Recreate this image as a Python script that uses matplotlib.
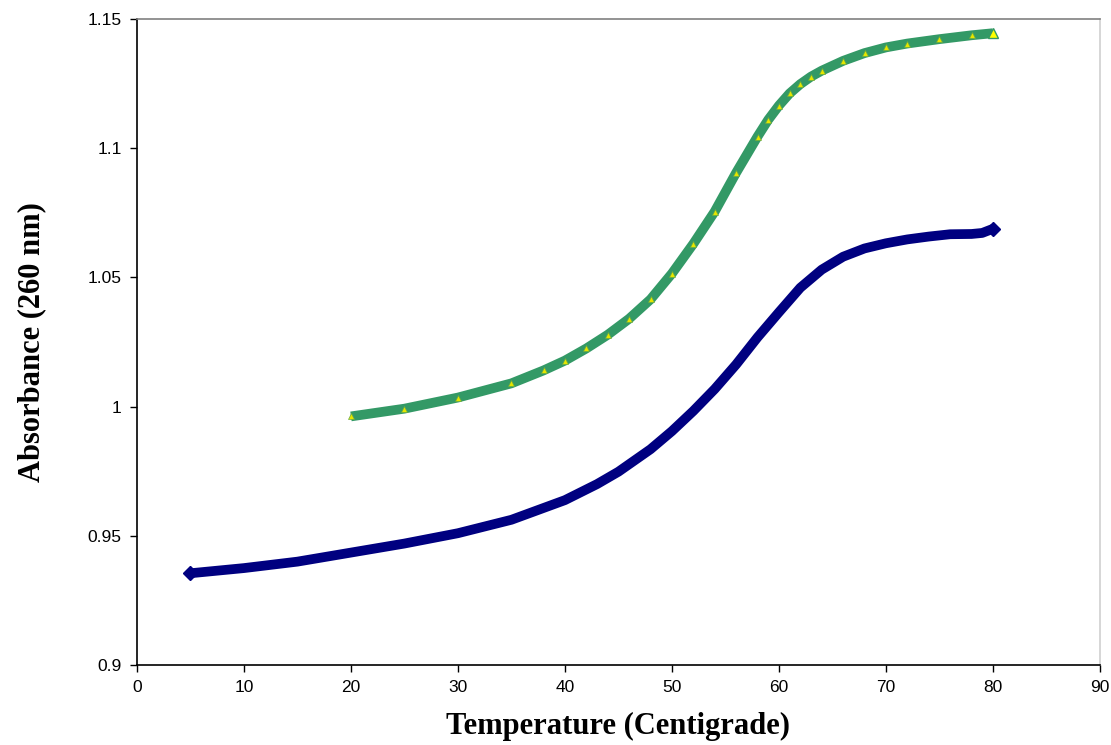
import matplotlib
matplotlib.use("Agg")
import matplotlib.pyplot as plt
from matplotlib.ticker import FuncFormatter

# Melting curves (temperature in C, absorbance at 260 nm)
temp_blue = [5, 10, 15, 20, 25, 30, 35, 40, 43, 45, 48, 50, 52, 54, 56, 58,
             60, 62, 64, 66, 68, 70, 72, 74, 76, 78, 79, 80]
abs_blue = [0.9355, 0.9375, 0.9400, 0.9435, 0.9470, 0.9510, 0.9562, 0.9638,
            0.9700, 0.9748, 0.9835, 0.9905, 0.9983, 1.0068, 1.0163, 1.0268,
            1.0365, 1.0460, 1.0530, 1.0580, 1.0612, 1.0632, 1.0647, 1.0658,
            1.0667, 1.0668, 1.0672, 1.0688]

temp_green = [20, 25, 30, 35, 38, 40, 42, 44, 46, 48, 50, 52, 54, 56, 58, 59,
              60, 61, 62, 63, 64, 66, 68, 70, 72, 75, 78, 80]
abs_green = [0.9962, 0.9992, 1.0035, 1.0090, 1.0140, 1.0178, 1.0225, 1.0278,
             1.0340, 1.0415, 1.0515, 1.0630, 1.0755, 1.0905, 1.1045, 1.1110,
             1.1165, 1.1212, 1.1248, 1.1277, 1.1300, 1.1338, 1.1368, 1.1390,
             1.1405, 1.1422, 1.1437, 1.1445]

x_ticks = [0, 10, 20, 30, 40, 50, 60, 70, 80, 90]
y_ticks = [0.9, 0.95, 1.0, 1.05, 1.1, 1.15]

fig = plt.figure(figsize=(11.11, 7.45), dpi=100)
ax = fig.add_axes([0.1233, 0.1074, 0.8667, 0.8671])

ax.plot(temp_blue, abs_blue, color="#000080", linewidth=7,
        marker="D", markersize=7, markevery=[0, len(temp_blue) - 1],
        markerfacecolor="#000080", markeredgecolor="#000080",
        solid_capstyle="round", solid_joinstyle="round", zorder=2)
ax.plot(temp_green, abs_green, color="#339966", linewidth=7,
        solid_capstyle="butt", solid_joinstyle="round", zorder=3)
ax.plot(temp_green, abs_green, linestyle="none", marker="^", markersize=4,
        markerfacecolor="#E6E600", markeredgecolor="#66AA44",
        markeredgewidth=0.5, zorder=4)
# last point drawn a bit larger, as in the original
ax.plot(temp_green[-1:], abs_green[-1:], linestyle="none", marker="^",
        markersize=7, markerfacecolor="#FFFF00", markeredgecolor="#339966",
        markeredgewidth=1, zorder=5)

ax.set_xlim(0, 90)
ax.set_ylim(0.9, 1.15)
ax.set_xticks(x_ticks)
ax.set_yticks(y_ticks)
ax.yaxis.set_major_formatter(FuncFormatter(lambda v, p: f"{v:g}"))

for lab in ax.get_xticklabels() + ax.get_yticklabels():
    lab.set_family("Liberation Sans")
    lab.set_fontsize(12.5)
ax.tick_params(direction="out", length=5, width=1, pad=6)

ax.spines["left"].set_color("black")
ax.spines["bottom"].set_color("black")
ax.spines["top"].set_color("#808080")
ax.spines["right"].set_color("#d0d0d0")
for s in ax.spines.values():
    s.set_linewidth(1.2)

ax.set_xlabel("Temperature (Centigrade)", family="Liberation Serif",
              fontweight="bold", fontsize=22, labelpad=12)
ax.set_ylabel("Absorbance (260 nm)", family="Liberation Serif",
              fontweight="bold", fontsize=22, labelpad=30)

fig.savefig("out.png", dpi=100)
plt.close(fig)
